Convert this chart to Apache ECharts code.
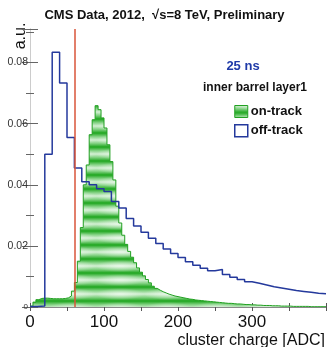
<!DOCTYPE html>
<html><head><meta charset="utf-8">
<script src="https://cdn.jsdelivr.net/npm/echarts@6/dist/echarts.min.js"></script>
<style>html,body{margin:0;padding:0;background:#fff}#c{width:329px;height:347px}</style>
</head><body><div id="c"></div>
<script>
// ---- data ----
const titleText = 'CMS Data, 2012,  \u221As=8 TeV, Preliminary';
const xAxisTitle = 'cluster charge [ADC]';
const yAxisTitle = 'a.u.';
const noteText1 = '25 ns';
const noteText2 = 'inner barrel layer1';
const seriesNames = ['on-track', 'off-track'];
const xRange = [0, 400];
const yRange = [0, 0.091];
const cutValue = 61;
// on-track: 4 ADC bins starting at 0
const onBinWidth = 4;
const onTrack = [
  0.0003,0.0016,0.0024,0.0028,0.0029,0.0029,0.0028,0.0027,0.0027,0.0027,
  0.0027,0.0028,0.0030,0.0036,0.0052,0.0080,0.0150,0.0260,0.0400,0.0465,
  0.0564,0.0613,0.0659,0.0646,0.0619,0.0586,0.0531,0.0476,0.0416,0.0330,
  0.0275,0.0235,0.0205,0.0182,0.0163,0.0145,0.0128,0.0114,0.0102,0.0090,
  0.0079,0.0068,0.0061,0.0055,0.0050,0.0046,0.0042,0.0039,0.0036,0.0034,
  0.0032,0.0030,0.0028,0.0026,0.0025,0.0023,0.0022,0.0021,0.0020,0.0019,
  0.0018,0.0017,0.0016,0.0015,0.0014,0.0013,0.0012,0.0012,0.0011,0.0010,
  0.0010,0.0009,0.0008,0.0008,0.0007,0.0007,0.0006,0.0006,0.0005,0.0005,
  0.0005,0.0004,0.0004,0.0004,0.0003,0.0003,0.0003,0.0003,0.0002,0.0002,
  0.0002,0.0002,0.0002,0.0002,0.0001,0.0001,0.0001,0.0001,0.0001,0.0001
];
// off-track: 10 ADC bins starting at 0
const offBinWidth = 10;
const offTrack = [
  0.0002,0.0003,0.0500,0.0834,0.0733,0.0555,0.0455,0.0410,0.0400,0.0387,
  0.0378,0.0345,0.0324,0.0290,0.0265,0.0245,0.0225,0.0208,0.0190,0.0175,
  0.0162,0.0148,0.0137,0.0127,0.0119,0.0123,0.0106,0.0097,0.0090,0.0083,
  0.0078,0.0072,0.0066,0.0062,0.0058,0.0054,0.0051,0.0048,0.0045,0.0043
];

function histPoints(vals, w){
  const pts = vals.map((v,i)=>[i*w, v]);
  pts.push([vals.length*w, vals[vals.length-1]]);
  return pts;
}
function makePattern(){
  const W = 48, H = 14;
  const c = document.createElement('canvas');
  c.width = W; c.height = H;
  const g = c.getContext('2d');
  const gr = g.createLinearGradient(0,0,0,H);
  gr.addColorStop(0,'#d2efd2');
  gr.addColorStop(0.25,'#7fd07f');
  gr.addColorStop(0.5,'#1ea61e');
  gr.addColorStop(0.75,'#7fd07f');
  gr.addColorStop(1,'#d2efd2');
  g.fillStyle = gr; g.fillRect(0,0,W,H);
  const rg = g.createRadialGradient(W/2, 0, 0, W/2, 0, W/2);
  rg.addColorStop(0,'rgba(255,255,255,0.55)');
  rg.addColorStop(1,'rgba(255,255,255,0)');
  g.save(); g.scale(1, 0.25);
  g.fillStyle = rg; g.fillRect(0,-H*4,W,H*8);
  g.restore();
  const rg2 = g.createRadialGradient(W/2, H, 0, W/2, H, W/2);
  rg2.addColorStop(0,'rgba(255,255,255,0.55)');
  rg2.addColorStop(1,'rgba(255,255,255,0)');
  g.save(); g.translate(0, H); g.scale(1, 0.25); g.translate(0, -H);
  g.fillStyle = rg2; g.fillRect(0,-H*4,W,H*8);
  g.restore();
  return c;
}
const pat = {image: makePattern(), repeat: 'repeat'};
const green = '#22a022', blue = '#24399c';
const font = 'Liberation Sans, Arial, sans-serif';

const chart = echarts.init(document.getElementById('c'), null, {renderer:'canvas'});
const yFmt = v => {
  const r = Math.round(v*100);
  if (Math.abs(v*100 - r) > 1e-6 || r % 2) return '';
  return r === 0 ? '{z|0}' : v.toFixed(2);
};
chart.setOption({
  animation: false,
  grid: {left: 30, top: 29, width: 298, height: 278, containLabel: false},
  title: {text: titleText, left: 'center', top: 4,
    textStyle: {fontFamily: font, fontSize: 13, fontWeight: 'bold', color: '#111'}},
  legend: {
    orient: 'vertical', left: 229, top: 100, itemWidth: 13, itemHeight: 12, itemGap: 6,
    textStyle: {fontFamily: font, fontSize: 13, fontWeight: 'bold', color: '#111', padding: [0,0,0,-2]},
    data: [
      {name: seriesNames[0], icon: 'rect', itemStyle: {color: pat, borderColor: green, borderWidth: 1}},
      {name: seriesNames[1], icon: 'rect', itemStyle: {color: '#fff', borderColor: blue, borderWidth: 1.5}}
    ]
  },
  xAxis: [
    {type: 'value', min: xRange[0], max: xRange[1], interval: 100, position: 'bottom',
     axisLine: {lineStyle: {color: '#999'}},
     axisTick: {inside: true, length: 4, lineStyle: {color: '#555'}},
     minorTick: {show: true, splitNumber: 2, length: 4, lineStyle: {color: '#555'}},
     splitLine: {show: false},
     axisLabel: {margin: 7, fontFamily: font, fontSize: 17, color: '#111',
       formatter: v => (v < 400 ? String(v) : '')}},
    {type: 'value', min: xRange[0], max: xRange[1], interval: 100, position: 'top',
     axisLine: {lineStyle: {color: '#888'}},
     axisTick: {inside: true, length: 4, lineStyle: {color: '#555'}},
     minorTick: {show: true, splitNumber: 2, length: 4, lineStyle: {color: '#555'}},
     splitLine: {show: false}, axisLabel: {show: false}}
  ],
  yAxis: [
    {type: 'value', min: yRange[0], max: yRange[1], interval: 0.02, position: 'left',
     axisLine: {show: true, lineStyle: {color: '#ccc'}},
     axisTick: {show: true, inside: true, length: 8, lineStyle: {color: '#666'}},
     minorTick: {show: true, splitNumber: 2, length: 4, lineStyle: {color: '#666'}},
     splitLine: {show: false},
     axisLabel: {margin: 2, fontFamily: font, fontSize: 10.5, color: '#333', formatter: yFmt,
       rich: {z: {fontSize: 8, fontFamily: font, color: '#333'}}}},
    {type: 'value', min: yRange[0], max: yRange[1], interval: 0.02, position: 'right',
     axisLine: {show: true, lineStyle: {color: '#ccc'}},
     axisTick: {show: true, inside: true, length: 8, lineStyle: {color: '#666'}},
     minorTick: {show: true, splitNumber: 2, length: 4, lineStyle: {color: '#666'}},
     splitLine: {show: false}, axisLabel: {show: false}}
  ],
  series: [
    {name: seriesNames[0], type: 'line', step: 'end', symbol: 'none',
     data: histPoints(onTrack, onBinWidth),
     lineStyle: {color: green, width: 1}, itemStyle: {color: green},
     areaStyle: {color: pat, opacity: 1}, z: 2},
    {name: seriesNames[1], type: 'line', step: 'end', symbol: 'none',
     data: histPoints(offTrack, offBinWidth),
     lineStyle: {color: blue, width: 1.5}, itemStyle: {color: blue}, z: 3,
     markLine: {silent: true, symbol: 'none', label: {show: false},
       lineStyle: {color: '#d9553a', width: 1.5, type: 'solid'},
       data: [{xAxis: cutValue}]}}
  ],
  graphic: [
    {type: 'text', x: 243, y: 66, style: {text: noteText1, font: 'bold 13px ' + font, fill: '#1f3aa8', align: 'center', verticalAlign: 'middle'}},
    {type: 'text', x: 255, y: 88, style: {text: noteText2, font: 'bold 12px ' + font, fill: '#111', align: 'center', verticalAlign: 'middle'}},
    {type: 'text', x: 325, y: 341, style: {text: xAxisTitle, font: '16px ' + font, fill: '#111', align: 'right', verticalAlign: 'middle'}},
    {type: 'text', x: 21, y: 36, rotation: Math.PI/2, style: {text: yAxisTitle, font: '16px ' + font, fill: '#111', align: 'center', verticalAlign: 'middle'}}
  ]
});
</script></body></html>
